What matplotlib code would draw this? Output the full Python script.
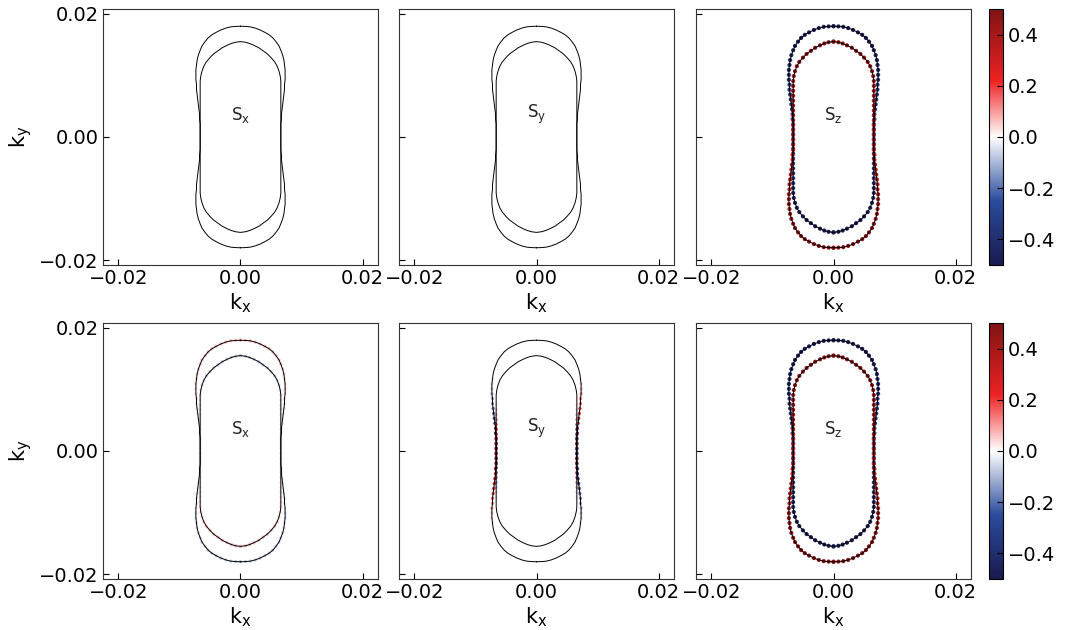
import numpy as np
import matplotlib
matplotlib.use('Agg')
from matplotlib import pyplot as plt
from matplotlib.colors import LinearSegmentedColormap, Normalize
from matplotlib.cm import ScalarMappable

plt.rcParams['mathtext.default'] = 'regular'
plt.rcParams['font.family'] = 'DejaVu Sans'

# right half of band A (outer at the top, inner at the bottom), read top -> bottom
kx_a = [0.0000, 0.0008, 0.0016, 0.0024, 0.0032, 0.0040, 0.0047, 0.0053, 0.0058, 0.0063,
        0.0066, 0.0069, 0.0071, 0.0072, 0.0073, 0.0073, 0.0073, 0.0072, 0.0072, 0.0071,
        0.0070, 0.0069, 0.0068, 0.0067, 0.0067, 0.0066, 0.0066, 0.0066, 0.0066, 0.0066,
        0.0066, 0.0066, 0.0066, 0.0066, 0.0066, 0.0066, 0.0066, 0.0066, 0.0066, 0.0066,
        0.0065, 0.0063, 0.0060, 0.0056, 0.0050, 0.0044, 0.0037, 0.0030, 0.0022, 0.0015,
        0.0008, 0.0000]
ky_a = [0.0180, 0.01797, 0.0179, 0.0177, 0.0174, 0.0170, 0.0166, 0.0161, 0.0155, 0.0148,
        0.0141, 0.0133, 0.0125, 0.0117, 0.0109, 0.0101, 0.0093, 0.0085, 0.0077, 0.0069,
        0.0061, 0.0053, 0.0045, 0.0037, 0.0029, 0.0021, 0.0013, 0.0005, -0.0003, -0.0011,
        -0.0019, -0.0027, -0.0035, -0.0043, -0.0051, -0.0059, -0.0067, -0.0075, -0.0083, -0.0091,
        -0.0099, -0.0107, -0.0115, -0.0122, -0.0129, -0.0135, -0.0140, -0.0145, -0.0149, -0.0152,
        -0.0154, -0.0155]

# spin components on band A (right half), same order
sz_a = [-0.48, -0.48, -0.48, -0.48, -0.48, -0.47, -0.47, -0.47, -0.46, -0.46,
        -0.45, -0.44, -0.43, -0.42, -0.41, -0.40, -0.39, -0.38, -0.37, -0.36,
        -0.35, -0.34, -0.33, -0.32, -0.31, -0.30, -0.30, -0.30, -0.30, -0.31,
        -0.32, -0.33, -0.34, -0.35, -0.36, -0.37, -0.38, -0.39, -0.40, -0.41,
        -0.42, -0.43, -0.44, -0.45, -0.46, -0.47, -0.47, -0.48, -0.48, -0.48,
        -0.48, -0.48]
sx_a = [0.07, 0.07, 0.07, 0.07, 0.07, 0.07, 0.07, 0.07, 0.06, 0.06,
        0.06, 0.05, 0.05, 0.04, 0.04, 0.04, 0.03, 0.03, 0.03, 0.03,
        0.02, 0.02, 0.02, 0.02, 0.02, 0.02, 0.02, 0.02, 0.02, 0.02,
        0.02, 0.02, 0.02, 0.02, 0.02, 0.03, 0.03, 0.03, 0.03, 0.04,
        0.04, 0.05, 0.05, 0.06, 0.06, 0.06, 0.07, 0.07, 0.07, 0.07,
        0.07, 0.07]
sy_a = [0.00, 0.00, 0.00, 0.00, 0.00, 0.00, 0.00, 0.00, 0.00, 0.00,
        0.00, 0.00, 0.00, 0.02, 0.04, 0.06, 0.09, 0.12, 0.15, 0.18,
        0.21, 0.25, 0.28, 0.31, 0.33, 0.35, 0.36, 0.36, 0.35, 0.33,
        0.30, 0.26, 0.21, 0.16, 0.11, 0.07, 0.04, 0.02, 0.00, 0.00,
        0.00, 0.00, 0.00, 0.00, 0.00, 0.00, 0.00, 0.00, 0.00, 0.00,
        0.00, 0.00]

panel_names = ['S$_x$', 'S$_y$', 'S$_z$']
xticks = [-0.02, 0.00, 0.02]
yticks = [-0.02, 0.00, 0.02]
cbar_ticks = [-0.4, -0.2, 0.0, 0.2, 0.4]

# full closed curves: band A, band B is band A mirrored in ky
kx_r, ky_r = np.array(kx_a), np.array(ky_a)
band_a_x = np.concatenate([kx_r, -kx_r[::-1]])
band_a_y = np.concatenate([ky_r, ky_r[::-1]])
band_b_x = band_a_x
band_b_y = -band_a_y


def full(vals, odd_in_kx=False):
    v = np.array(vals)
    left = -v[::-1] if odd_in_kx else v[::-1]
    return np.concatenate([v, left])


spin_a = {'x': full(sx_a), 'y': full(sy_a, True), 'z': full(sz_a)}
spin_b = {k: -v for k, v in spin_a.items()}

cmap = LinearSegmentedColormap.from_list(
    'spin', [(0, '#1a1a4e'), (0.25, '#2b4c9c'), (0.5, '#ffffff'),
             (0.72, '#ee2222'), (1, '#7f1414')])
norm = Normalize(-0.5, 0.5)

fig = plt.figure(figsize=(10.66, 6.3), dpi=100)
W, H = 1066, 630
lefts = [103, 399, 696]
tops = [9, 323]
aw, ah = 275, 256

for r in range(2):
    for c in range(3):
        ax = fig.add_axes([lefts[c] / W, 1 - (tops[r] + ah) / H, aw / W, ah / H])
        comp = 'xyz'[c]
        colored = (r == 1) or (c == 2)
        if colored:
            size = 9 if comp == 'z' else 6
            ax.scatter(band_a_x, band_a_y, c=spin_a[comp], cmap=cmap, norm=norm,
                       s=size, edgecolors='none', zorder=2)
            ax.scatter(band_b_x, band_b_y, c=spin_b[comp], cmap=cmap, norm=norm,
                       s=size, edgecolors='none', zorder=2)
        ax.plot(band_a_x, band_a_y, c='black', linewidth=0.7, zorder=3)
        ax.plot(band_b_x, band_b_y, c='black', linewidth=0.7, zorder=3)
        ax.text(0.0, 0.0036, panel_names[c], ha='center', va='center', fontsize=12,
                color='#222222')
        ax.set_xlim(-0.0225, 0.0225)
        ax.set_ylim(-0.0208, 0.0208)
        ax.set_xticks(xticks)
        ax.set_yticks(yticks)
        ax.set_xticklabels(['\u22120.02', '0.00', '0.02'])
        if c == 0:
            ax.set_yticklabels(['\u22120.02', '0.00', '0.02'])
            ax.set_ylabel('k$_y$', fontsize=15)
        else:
            ax.set_yticklabels([])
        ax.set_xlabel('k$_x$', fontsize=15, labelpad=2)
        ax.tick_params(axis='both', which='major', direction='in', labelsize=14,
                       length=4, width=0.8, pad=3)
        for sp in ax.spines.values():
            sp.set_color('#333333')
            sp.set_linewidth(0.8)

    cax = fig.add_axes([989 / W, 1 - (tops[r] + ah) / H, 14 / W, ah / H])
    sm = ScalarMappable(norm=norm, cmap=cmap)
    cb = fig.colorbar(sm, cax=cax, ticks=cbar_ticks)
    cb.ax.tick_params(direction='in', labelsize=14, length=4, width=0.8)
    cb.ax.set_yticklabels(['\u22120.4', '\u22120.2', '0.0', '0.2', '0.4'])
    cb.outline.set_linewidth(0.8)

fig.savefig('out.png', dpi=100)
